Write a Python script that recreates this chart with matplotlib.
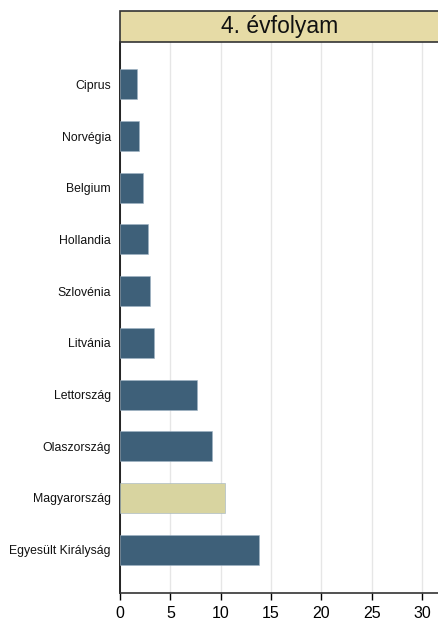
import matplotlib
matplotlib.use("Agg")
import matplotlib.pyplot as plt
from matplotlib.patches import Rectangle

plt.rcParams['font.family'] = ['Liberation Sans', 'DejaVu Sans']

countries = ["Ciprus", "Norvégia", "Belgium", "Hollandia", "Szlovénia", "Litvánia",
             "Lettország", "Olaszország", "Magyarország", "Egyesült Királyság"]
values = [1.7, 1.9, 2.25, 2.8, 3.0, 3.4, 7.7, 9.15, 10.4, 13.8]
highlight = "Magyarország"
title = "4. évfolyam"
xticks = [0, 5, 10, 15, 20, 25, 30]

W, H = 438, 628
fig = plt.figure(figsize=(W / 100, H / 100), dpi=100)
left, right, top, bottom = 120, 438, 42, 593
ax = fig.add_axes([left / W, 1 - bottom / H, (right - left) / W, (bottom - top) / H])

colors = ["#D8D4A0" if c == highlight else "#3E6079" for c in countries]
ypos = list(range(len(countries)))
ax.barh(ypos, values, height=0.58, color=colors, edgecolor="#9fb3c4", linewidth=0.4, zorder=3)
ax.set_yticks(ypos)
ax.set_yticklabels(countries, fontsize=8.8, color="#111111")
ax.set_ylim(9.84, -0.82)
ax.set_xlim(0, 31.6)
ax.set_xticks(xticks)
ax.set_xticklabels([str(t) for t in xticks], fontsize=11.5)
ax.tick_params(axis='y', length=0, pad=6.5)
ax.tick_params(axis='x', length=5, width=1, direction='out', pad=4)
ax.grid(axis='x', color="#e6e6e6", linewidth=1, zorder=0)
for s in ["top", "right"]:
    ax.spines[s].set_visible(False)
ax.spines["left"].set_color("black")
ax.spines["left"].set_linewidth(1.2)
ax.spines["bottom"].set_color("#333333")
ax.spines["bottom"].set_linewidth(1.2)

# title box
tb_top, tb_bottom = 11, 42
rect = Rectangle((left / W, 1 - tb_bottom / H), (right - left + 5) / W, (tb_bottom - tb_top) / H,
                 transform=fig.transFigure, facecolor="#E6DBA6", edgecolor="#333333",
                 linewidth=1.2, zorder=5)
fig.patches.append(rect)
fig.text((left + 160) / W, 1 - (tb_top + tb_bottom) / 2 / H, title, fontsize=16.5,
         ha="center", va="center", color="#111111", zorder=6)

fig.savefig("out.png", dpi=100, facecolor="white")
